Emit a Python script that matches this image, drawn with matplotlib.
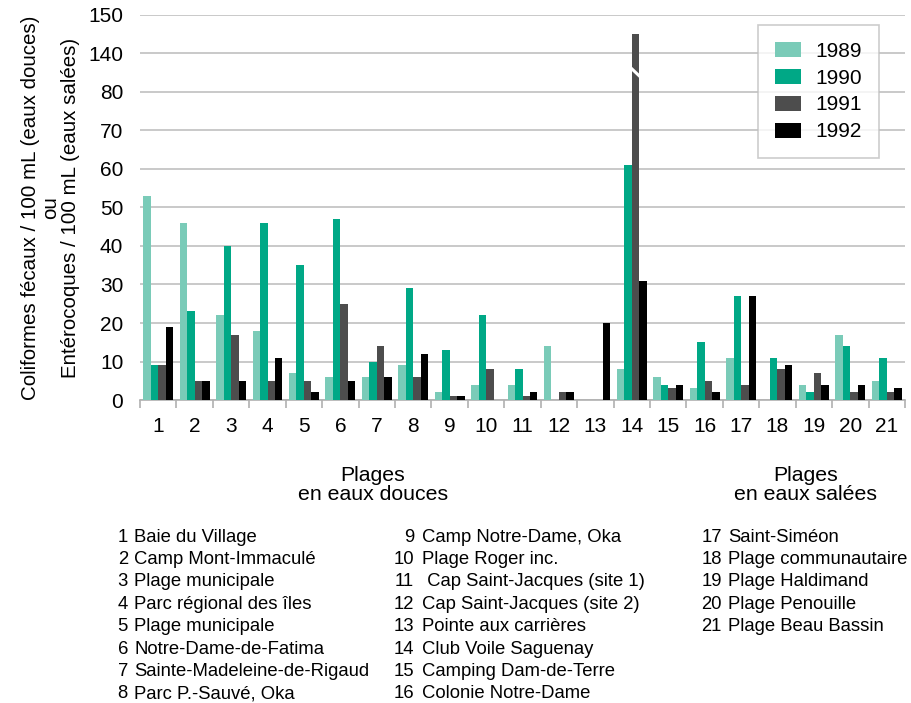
import numpy as np
import matplotlib.pyplot as plt

plt.rcParams['font.family'] = ['Liberation Sans', 'DejaVu Sans']

sites = [str(i) for i in range(1, 22)]
years = ["1989", "1990", "1991", "1992"]
v1989 = [53, 46, 22, 18, 7, 6, 6, 9, 2, 4, 4, 14, 0, 8, 6, 3, 11, 0, 4, 17, 5]
v1990 = [9, 23, 40, 46, 35, 47, 10, 29, 13, 22, 8, 0, 0, 61, 4, 15, 27, 11, 2, 14, 11]
v1991 = [9, 5, 17, 5, 5, 25, 14, 6, 1, 8, 1, 2, 0, 145, 3, 5, 4, 8, 7, 2, 2]
v1992 = [19, 5, 5, 11, 2, 5, 6, 12, 1, 0, 2, 2, 20, 31, 4, 2, 27, 9, 4, 4, 3]
colors = ["#7acbb8", "#00a886", "#4d4d4d", "#000000"]

yticks = [0, 10, 20, 30, 40, 50, 60, 70, 80, 140, 150]

site_names = ["Baie du Village", "Camp Mont-Immaculé", "Plage municipale",
              "Parc régional des îles", "Plage municipale", "Notre-Dame-de-Fatima",
              "Sainte-Madeleine-de-Rigaud", "Parc P.-Sauvé, Oka",
              "Camp Notre-Dame, Oka", "Plage Roger inc.", " Cap Saint-Jacques (site 1)",
              "Cap Saint-Jacques (site 2)", "Pointe aux carrières", "Club Voile Saguenay",
              "Camping Dam-de-Terre", "Colonie Notre-Dame",
              "Saint-Siméon", "Plage communautaire", "Plage Haldimand",
              "Plage Penouille", "Plage Beau Bassin"]


# broken axis: everything above 80 is shifted down by 50
def brk(v):
    v = np.asarray(v, dtype=float)
    return np.where(v > 80, v - 50, v)


fig = plt.figure(figsize=(9.11, 7.03), dpi=100)
ax = fig.add_axes([0.1537, 0.431, 0.8397, 0.5477])

x = np.arange(1, 22)
w = 0.205
series = [v1989, v1990, v1991, v1992]
bars = []
for i, (vals, c, lab) in enumerate(zip(series, colors, years)):
    b = ax.bar(x + (i - 1.5) * w, brk(vals), w, color=c, label=lab, zorder=3)
    bars.append(b)

# break marker on bars that exceed 80
for i, vals in enumerate(series):
    for j, v in enumerate(vals):
        if v > 80:
            p = bars[i][j]
            x0 = p.get_x()
            ax.plot([x0 - 0.02, x0 + p.get_width() + 0.02], [86.2, 84.0],
                    color="white", lw=2.2, zorder=4, solid_capstyle="butt")

ax.set_xlim(0.5, 21.5)
ax.set_ylim(0, 100)
ax.set_yticks(brk(yticks))
ax.set_yticklabels([str(t) for t in yticks], fontsize=15)
ax.set_xticks(x)
ax.set_xticklabels(sites, fontsize=15)
ax.set_xticks(np.arange(0.5, 22, 1), minor=True)
ax.tick_params(axis="x", which="major", length=0, pad=12)
ax.tick_params(axis="x", which="minor", length=6, color="#b0b0b0", width=1.2)
ax.tick_params(axis="y", length=0, pad=12)
ax.grid(axis="y", color="#c0c0c0", lw=1.2, zorder=0)
for s in ["left", "right", "top"]:
    ax.spines[s].set_visible(False)
ax.spines["bottom"].set_color("#b0b0b0")
ax.spines["bottom"].set_linewidth(1.2)

ax.set_ylabel("Coliformes fécaux / 100 mL (eaux douces)\nou\nEntérocoques / 100 mL (eaux salées)",
              fontsize=14.8, linespacing=1.08, labelpad=6)

leg = ax.legend(loc="upper right", bbox_to_anchor=(0.966, 0.974), fontsize=15, frameon=True,
                fancybox=False, edgecolor="#c0c0c0", handlelength=1.25, handleheight=0.75,
                handletextpad=0.72, labelspacing=0.38, borderpad=0.8, borderaxespad=0)
leg.get_frame().set_linewidth(1.2)

fig.text(373 / 911, 1 - 485 / 703, "Plages\nen eaux douces", ha="center", va="center",
         fontsize=15.3, linespacing=1.0)
fig.text(806 / 911, 1 - 485 / 703, "Plages\nen eaux salées", ha="center", va="center",
         fontsize=15.3, linespacing=1.0)

# site list: three columns (number right edge, name left edge, first site index, count)
columns = [(128, 134, 0, 8), (414, 422, 8, 8), (722, 728, 16, 5)]
for xnum, xname, start, n in columns:
    for k in range(n):
        idx = start + k
        yy = 1 - (537 + 22.4 * k) / 703
        fig.text(xnum / 911, yy, sites[idx], ha="right", va="center", fontsize=13.3)
        fig.text(xname / 911, yy, site_names[idx], ha="left", va="center", fontsize=13.3)

fig.savefig("out.png", dpi=100)
